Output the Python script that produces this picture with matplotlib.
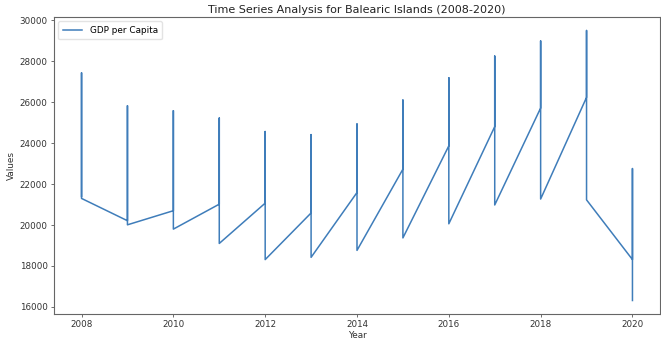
import matplotlib
matplotlib.use('Agg')
import matplotlib.pyplot as plt
import pandas as pd

# three readings per year, in the order they appear in the table
years = list(range(2008, 2021))
first_vals = [21400, 20210, 20700, 21020, 21070, 20590, 21590,
              22730, 23870, 24810, 25720, 26240, 18310]
high_vals = [27440, 25830, 25590, 25230, 24570, 24420, 24940,
             26110, 27200, 28260, 29000, 29510, 22760]
low_vals = [21300, 20010, 19800, 19100, 18310, 18420, 18760,
            19370, 20060, 20980, 21270, 21230, 16310]

rows = []
for y, a, b, c in zip(years, first_vals, high_vals, low_vals):
    rows += [(y, a), (y, b), (y, c)]
df = pd.DataFrame(rows, columns=['Year', 'GDP per Capita'])

fig = plt.figure(figsize=(6.61, 3.43), dpi=100)
ax = fig.add_axes([54 / 661, 1 - 314 / 343, 606 / 661, 297 / 343])

ax.plot(df['Year'], df['GDP per Capita'], color='#3f7dba', lw=1.1,
        label='GDP per Capita')

ax.set_title('Time Series Analysis for Balearic Islands (2008-2020)',
             fontsize=8.0, color='#222222', pad=3)
ax.set_xlabel('Year', fontsize=6.4, color='#333333', labelpad=1)
ax.set_ylabel('Values', fontsize=6.4, color='#333333', labelpad=3)
ax.set_xticks(range(2008, 2021, 2))
ax.set_yticks(range(16000, 30001, 2000))
ax.tick_params(labelsize=6.3, labelcolor='#333333', length=2.5,
               width=0.6, color='#555555', pad=2)
for sp in ax.spines.values():
    sp.set_color('#666666')
    sp.set_linewidth(0.8)

ax.legend(loc='upper left', fontsize=6.4, frameon=True, edgecolor='#dddddd',
          handlelength=2.2, borderpad=0.5)

fig.savefig('out.png', dpi=100)
